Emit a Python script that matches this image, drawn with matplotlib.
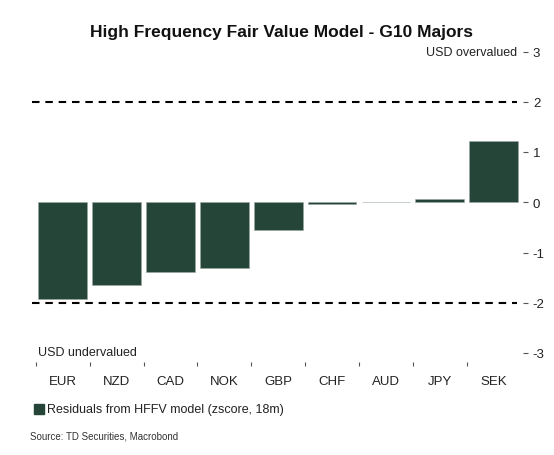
import matplotlib
matplotlib.use("Agg")
import matplotlib.pyplot as plt
import numpy as np

plt.rcParams['font.family'] = ['Liberation Sans', 'DejaVu Sans']
plt.rcParams['axes.unicode_minus'] = False

currencies = ['EUR', 'NZD', 'CAD', 'NOK', 'GBP', 'CHF', 'AUD', 'JPY', 'SEK']
residuals = [-1.93, -1.64, -1.39, -1.31, -0.56, -0.03, 0.01, 0.06, 1.21]
yticks = [-3, -2, -1, 0, 1, 2, 3]
bar_color = '#244537'

fig = plt.figure(figsize=(5.54, 4.56), dpi=100)
ax = fig.add_axes([31.7 / 554, 1 - 354 / 456, (523 - 31.7) / 554, (354 - 52.5) / 456])

x = np.arange(len(currencies))
ax.bar(x, residuals, width=0.905, color=bar_color, edgecolor='#9aaba2', linewidth=0.4)

ax.set_xlim(-0.578, 8.547)
ax.set_ylim(-3, 3)

# +/- 2 threshold lines
for lvl in (2, -2):
    ax.axhline(lvl, xmin=0, xmax=(517 - 31.7) / (523 - 31.7), color='black',
               lw=1.5, dashes=(3.6, 2.8))

for s in ax.spines.values():
    s.set_visible(False)

ax.yaxis.tick_right()
ax.set_yticks(yticks)
ax.set_yticklabels([str(t) for t in yticks])
ax.tick_params(axis='y', length=3.6, width=0.8, color='#555555', pad=3.5,
               labelsize=9.5, labelcolor='#222222')

ax.spines['bottom'].set_position(('outward', 9.5))
ax.set_xticks(x)
ax.set_xticklabels(currencies)
ax.set_xticks(x - 0.5, minor=True)
ax.tick_params(axis='x', which='major', length=0, pad=6, labelsize=9.5, labelcolor='#222222')
ax.tick_params(axis='x', which='minor', length=3, width=0.8, color='#555555', direction='in')

fig.text(516.7 / 554, 1 - 52.7 / 456, 'USD overvalued', ha='right', va='center',
         fontsize=9, color='#222222')
fig.text(38 / 554, 1 - 353 / 456, 'USD undervalued', ha='left', va='center',
         fontsize=9, color='#222222')

fig.text(282 / 554, 1 - 33 / 456, 'High Frequency Fair Value Model - G10 Majors',
         ha='center', va='center', fontsize=12.5, fontweight='bold', color='#111111')

fig.patches.append(plt.Rectangle((34 / 554, 1 - 415 / 456), 10 / 554, 10 / 456,
                                 transform=fig.transFigure, color=bar_color))
fig.text(47 / 554, 1 - 410 / 456, 'Residuals from HFFV model (zscore, 18m)',
         ha='left', va='center', fontsize=9, color='#222222')
fig.text(30 / 554, 1 - 437 / 456, 'Source: TD Securities, Macrobond',
         ha='left', va='center', fontsize=7, color='#333333')

fig.savefig('out.png', dpi=100)
